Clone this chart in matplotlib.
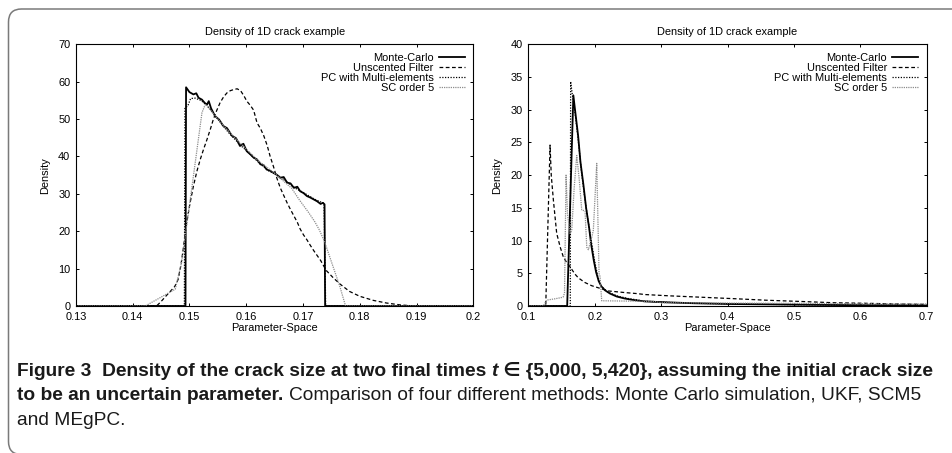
import matplotlib
matplotlib.use("Agg")
import matplotlib.pyplot as plt
from matplotlib.patches import FancyBboxPatch

# ---- data (left: t=5,000, right: t=5,420) ----
mc_left_x = [0.130, 0.1493, 0.1494, 0.1500, 0.1507, 0.1512, 0.1516, 0.1522, 0.1527,
             0.1531, 0.1534, 0.1538, 0.1545, 0.1552, 0.1560, 0.1566, 0.1575, 0.1582,
             0.1589, 0.1595, 0.1601, 0.1607, 0.1613, 0.1619, 0.1625, 0.1631, 0.1636,
             0.1642, 0.1648, 0.1654, 0.1660, 0.1666, 0.1672, 0.1678, 0.1684, 0.1690,
             0.1695, 0.1701, 0.1707, 0.1713, 0.1719, 0.1725, 0.1731, 0.1735, 0.1738,
             0.1739, 0.200]
mc_left_y = [0, 0, 58.5, 57.2, 56.6, 56.9, 55.7, 55.2, 54.3,
             53.9, 54.8, 52.9, 50.8, 49.9, 48.1, 47.6, 45.5, 44.9,
             42.8, 43.4, 41.4, 40.6, 39.7, 39.2, 37.9, 37.6, 36.5,
             36.2, 35.6, 35.1, 34.3, 34.5, 33.0, 32.8, 31.6, 31.9,
             30.7, 30.2, 29.4, 29.0, 28.5, 28.0, 27.3, 27.6, 27.2,
             0, 0]

ukf_left_x = [0.130, 0.1442, 0.1450, 0.1460, 0.1468, 0.1474, 0.1480, 0.1485, 0.1489,
              0.1495, 0.1501, 0.1507, 0.1513, 0.1519, 0.1525, 0.1531, 0.1537, 0.1542,
              0.1548, 0.1554, 0.1560, 0.1566, 0.1572, 0.1578, 0.1584, 0.1590, 0.1596,
              0.1601, 0.1607, 0.1613, 0.1619, 0.1625, 0.1631, 0.1637, 0.1642, 0.1648,
              0.1654, 0.1660, 0.1666, 0.1672, 0.1678, 0.1684, 0.1690, 0.1695, 0.1701,
              0.1707, 0.1713, 0.1719, 0.1725, 0.1731, 0.1741, 0.1753, 0.1765, 0.1782,
              0.1800, 0.1824, 0.1847, 0.1871, 0.1888, 0.1900, 0.200]
ukf_left_y = [0, 0, 1.2, 2.9, 4.2, 5.2, 7.1, 11.0, 15.2,
              22.3, 27.5, 32.1, 36.0, 39.2, 42.0, 44.6, 47.4, 49.9,
              52.3, 54.4, 55.9, 57.0, 57.6, 57.9, 58.1, 57.6, 56.2,
              54.8, 53.7, 52.4, 49.0, 47.5, 45.5, 42.9, 40.1, 37.3,
              34.2, 31.6, 29.6, 27.6, 25.8, 24.1, 22.4, 20.6, 19.0,
              17.7, 16.2, 14.8, 13.5, 12.2, 9.5, 7.6, 5.9, 3.9,
              2.6, 1.5, 0.8, 0.3, 0.1, 0, 0]

pc_left_x = [0.130, 0.1491, 0.1492, 0.1497, 0.1502, 0.1510, 0.1520, 0.1530, 0.1540,
             0.1550, 0.1560, 0.1570, 0.1580, 0.1590, 0.1600, 0.1610, 0.1620, 0.1630,
             0.1640, 0.1650, 0.1660, 0.1670, 0.1680, 0.1690, 0.1700, 0.1710, 0.1720,
             0.1730, 0.1737, 0.1740, 0.200]
pc_left_y = [0, 0, 53.0, 53.5, 55.5, 55.6, 55.0, 53.8, 52.0,
             50.0, 48.0, 46.2, 44.6, 43.0, 41.6, 40.1, 38.7, 37.3,
             36.1, 35.4, 34.5, 33.4, 32.2, 31.2, 30.4, 29.5, 28.6,
             27.9, 27.5, 0, 0]

sc_left_x = [0.130, 0.1422, 0.1448, 0.1475, 0.1486, 0.1495, 0.1507, 0.1522, 0.1528,
             0.1545, 0.1560, 0.1580, 0.1600, 0.1620, 0.1650, 0.1680, 0.1694, 0.1709,
             0.1721, 0.1729, 0.1738, 0.1747, 0.1756, 0.1765, 0.1775, 0.200]
sc_left_y = [0, 0, 2.2, 4.5, 11.6, 21.4, 34.8, 51.7, 54.0,
             51.0, 48.2, 45.0, 42.0, 39.0, 35.5, 31.5, 28.3, 25.2,
             22.5, 20.3, 17.2, 13.2, 9.2, 5.2, 0, 0]

mc_right_x = [0.10, 0.1585, 0.1678, 0.1703, 0.1750, 0.1785, 0.1830, 0.1870, 0.1915,
              0.1945, 0.1985, 0.2020, 0.2060, 0.2100, 0.2155, 0.2230, 0.2331, 0.2450,
              0.2580, 0.2757, 0.3080, 0.3500, 0.4090, 0.5090, 0.6000, 0.7000]
mc_right_y = [0, 0, 32.2, 30.0, 26.0, 22.0, 18.5, 15.0, 12.0,
              9.5, 7.0, 5.2, 3.8, 3.0, 2.4, 1.9, 1.45, 1.15,
              0.92, 0.7, 0.56, 0.42, 0.3, 0.2, 0.12, 0.08]

ukf_right_x = [0.10, 0.1262, 0.1327, 0.1345, 0.1377, 0.1427, 0.1480, 0.1527, 0.1580,
               0.1628, 0.1700, 0.1753, 0.1850, 0.1955, 0.2080, 0.2205, 0.2456, 0.2633,
               0.2757, 0.3134, 0.3586, 0.4138, 0.4590, 0.5142, 0.5593, 0.6146, 0.6598,
               0.7000]
ukf_right_y = [0, 0, 24.6, 20.0, 16.2, 11.1, 9.0, 7.5, 6.6,
               6.0, 4.9, 4.3, 3.6, 3.1, 2.7, 2.3, 2.05, 1.9,
               1.75, 1.55, 1.35, 1.1, 0.88, 0.68, 0.5, 0.4, 0.3,
               0.25]

pc_right_x = [0.10, 0.1632, 0.1637, 0.1660, 0.1703, 0.1750, 0.1800, 0.1850, 0.1900,
              0.1950, 0.2000, 0.2050, 0.2100, 0.2200, 0.2350, 0.2500, 0.2750, 0.3100,
              0.3500, 0.4100, 0.5100, 0.6000, 0.7000]
pc_right_y = [0, 0, 34.3, 32.5, 29.5, 25.5, 20.5, 16.5, 13.0,
              9.8, 6.8, 4.3, 3.0, 2.1, 1.5, 1.15, 0.75, 0.56,
              0.42, 0.3, 0.2, 0.12, 0.08]

sc_right_x = [0.10, 0.1226, 0.1276, 0.1402, 0.1502, 0.1527, 0.1545, 0.1568, 0.1590,
              0.1628, 0.1653, 0.1690, 0.1729, 0.1765, 0.1804, 0.1854, 0.1880, 0.1904,
              0.1955, 0.1979, 0.2030, 0.2065, 0.2080, 0.2105, 0.2500, 0.2900, 0.3000,
              0.4000, 0.5000, 0.6000, 0.7000]
sc_right_y = [0, 0, 0.9, 1.1, 1.3, 1.4, 2.0, 20.0, 14.0,
              11.1, 11.5, 18.0, 23.0, 19.5, 14.7, 14.5, 9.0, 8.6,
              10.5, 11.6, 21.8, 5.0, 4.5, 0.8, 0.75, 0.7, 0.5,
              0.45, 0.4, 0.35, 0.3]

labels = ["Monte-Carlo", "Unscented Filter", "PC with Multi-elements", "SC order 5"]
left_xticks = [0.13, 0.14, 0.15, 0.16, 0.17, 0.18, 0.19, 0.2]
left_yticks = [0, 10, 20, 30, 40, 50, 60, 70]
right_xticks = [0.1, 0.2, 0.3, 0.4, 0.5, 0.6, 0.7]
right_yticks = [0, 5, 10, 15, 20, 25, 30, 35, 40]

plt.rcParams["font.family"] = ["Liberation Sans", "DejaVu Sans"]
FS = 7.9

fig = plt.figure(figsize=(9.53, 4.53), dpi=100)

styles = [
    dict(color="black", lw=1.3, ls="-"),
    dict(color="black", lw=0.9, ls=(0, (3, 2))),
    dict(color="black", lw=0.9, ls=(0, (1, 1.2))),
    dict(color="#8c8c8c", lw=0.9, ls=(0, (1, 0.8))),
]


def panel(rect, series, xlim, ylim, xticks, yticks):
    ax = fig.add_axes(rect)
    for (x, y), lab, st in zip(series, labels, styles):
        ax.plot(x, y, label=lab, **st)
    ax.set_xlim(*xlim)
    ax.set_ylim(*ylim)
    ax.set_xticks(xticks)
    ax.set_yticks(yticks)
    ax.set_xticklabels([f"{v:g}" for v in xticks])
    ax.tick_params(direction="in", top=True, right=True, length=2.5, width=0.7,
                   labelsize=FS)
    ax.tick_params(axis="x", pad=4.5)
    ax.tick_params(axis="y", pad=4)
    for s in ax.spines.values():
        s.set_linewidth(0.8)
    ax.set_title("Density of 1D crack example", fontsize=FS, pad=7)
    ax.set_xlabel("Parameter-Space", fontsize=FS, labelpad=0.5)
    ax.set_ylabel("Density", fontsize=FS, labelpad=6)
    ax.legend(loc="upper right", frameon=False, markerfirst=False, fontsize=FS,
              handlelength=2.4, handletextpad=0.45, labelspacing=0.0,
              borderaxespad=0.3, borderpad=0.45)
    return ax


panel([0.0797, 0.3245, 0.4169, 0.5777],
      [(mc_left_x, mc_left_y), (ukf_left_x, ukf_left_y),
       (pc_left_x, pc_left_y), (sc_left_x, sc_left_y)],
      (0.13, 0.2), (0, 70), left_xticks, left_yticks)
panel([0.5544, 0.3245, 0.4180, 0.5777],
      [(mc_right_x, mc_right_y), (ukf_right_x, ukf_right_y),
       (pc_right_x, pc_right_y), (sc_right_x, sc_right_y)],
      (0.1, 0.7), (0, 40), right_xticks, right_yticks)

# rounded frame around the figure panel (bottom edge runs just off the page)
frame = FancyBboxPatch((0.085, -0.015), 9.8, 4.455,
                       boxstyle="round,pad=0,rounding_size=0.13",
                       transform=fig.dpi_scale_trans, fill=False,
                       edgecolor="#7a7a7a", lw=1.1, clip_on=False)
fig.patches.append(frame)

# caption, written piece by piece so bold / regular runs join up
cap_font = ["Liberation Sans", "DejaVu Sans"]
CFS = 13.8
renderer = fig.canvas.get_renderer()


def run(pieces, x0, y):
    x = x0
    for txt, weight, style in pieces:
        t = fig.text(x, y, txt, fontsize=CFS, family=cap_font, weight=weight,
                     style=style, va="baseline", ha="left", color="#1a1a1a")
        bb = t.get_window_extent(renderer)
        x = bb.x1 / fig.bbox.width


x0 = 17 / 953
run([("Figure 3  Density of the crack size at two final times ", "bold", "normal"),
     ("t", "bold", "italic"),
     (" \u2208 {5,000, 5,420}, assuming the initial crack size", "bold", "normal")],
    x0, 1 - 376 / 453)
run([("to be an uncertain parameter. ", "bold", "normal"),
     ("Comparison of four different methods: Monte Carlo simulation, UKF, SCM5",
      "normal", "normal")],
    x0, 1 - 400.5 / 453)
run([("and MEgPC.", "normal", "normal")], x0, 1 - 425 / 453)

fig.savefig("out.png", dpi=100)
